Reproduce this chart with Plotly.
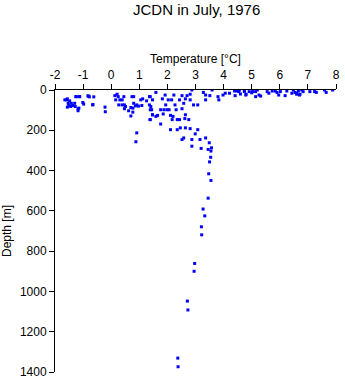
import plotly.graph_objects as go

title_text = "JCDN in July, 1976"
x_title = "Temperature [°C]"
y_title = "Depth [m]"

temperature = [
    # very cold surface cluster
    -1.59, -1.65, -1.56, -1.48, -1.53, -1.42, -1.30, -1.51, -1.44, -1.36, -1.56, -1.28,
    -1.18, -1.15, -1.24, -1.13, -1.01, -0.83, -0.78, -0.62, -0.66, -1.18, -1.26, -1.12,
    -0.98, -0.80, -0.65, -0.22, -0.21,
    # 0 - 1.5 C
    0.13, 0.21, 0.25, 0.16, 0.31, 0.39, 0.45, 0.74, 0.80, 0.27, 0.39, 0.47, 0.51, 0.47,
    0.62, 0.70, 0.77, 0.80, 0.86, 0.91, 0.97, 1.09, 0.77, 0.70, 1.05, 1.12, 1.26, 1.36,
    1.41, 1.44, 1.38, 1.47, 0.91, 0.88,
    # 1.4 - 4.8 C
    1.59, 1.47, 1.39, 1.82, 1.92, 2.03, 2.15, 2.23, 2.27, 1.94, 2.43, 2.52, 2.58, 2.64,
    2.70, 2.81, 2.87, 2.81, 2.93, 3.08, 3.28, 3.36, 3.36, 3.51, 3.59, 3.80, 3.83, 3.98,
    4.06, 4.21, 4.39, 4.48, 4.41, 4.56, 4.74, 4.80, 1.39, 1.47, 1.59, 1.65, 1.76, 1.85,
    1.88, 1.99, 2.06, 2.11, 2.17, 2.20, 2.35, 2.43, 2.52, 2.64, 2.62, 2.76, 2.31, 1.76,
    2.11, 2.35, 2.46, 2.64, 2.81, 3.08, 2.99, 3.36, 3.16, 2.87, 2.58, 2.52, 2.87, 3.49,
    3.20, 3.45, 3.57, 3.55, 1.39, 1.36,
    # warm surface layer
    4.54, 4.74, 4.79, 4.91, 5.03, 5.14, 5.20, 5.26, 5.14, 5.32, 5.55, 5.61, 5.73, 5.84,
    5.90, 5.96, 6.02, 6.19, 6.25, 6.43, 6.48, 6.54, 6.60, 6.66, 6.72, 6.78, 6.83, 7.07,
    7.24, 7.30, 7.59, 7.65, 7.88, 6.70, 6.60, 5.00, 4.60,
    # deep profile
    3.54, 3.50, 3.47, 3.55, 3.45, 3.27, 3.33, 3.21, 3.22, 2.97, 2.95, 2.71, 2.73, 2.37, 2.38,
]

depth = [
    49, 49, 44, 54, 66, 66, 66, 77, 82, 77, 85, 82,
    103, 90, 33, 33, 62, 29, 34, 34, 74, 93, 33, 33,
    70, 31, 72, 85, 108,
    28, 21, 33, 49, 49, 49, 33, 33, 33, 74, 74, 74, 82, 93,
    103, 87, 90, 66, 79, 74, 80, 77, 110, 129, 49, 44, 54, 33,
    82, 98, 147, 123, 213, 257,
    12, 49, 33, 44, 25, 49, 49, 25, 74, 74, 49, 28, 66, 44,
    28, 21, 0, 49, 74, 74, 12, 25, 49, 28, 0, 33, 49, 25,
    16, 16, 5, 5, 28, 0, 0, 21, 98, 123, 131, 126, 98, 119,
    98, 98, 98, 126, 147, 131, 147, 147, 93, 123, 142, 147, 98, 169,
    197, 197, 188, 188, 192, 197, 218, 238, 246, 246, 238, 246, 279, 262,
    290, 295, 287, 303, 147, 74,
    8, 8, 25, 8, 8, 8, 0, 25, 33, 30, 8, 16, 5, 5,
    12, 25, 8, 28, 5, 16, 0, 12, 21, 5, 21, 0, 8, 8,
    8, 12, 0, 12, 0, 25, 16, 14, 20,
    334, 357, 416, 449, 537, 591, 625, 679, 719, 861, 900, 1048, 1092, 1331, 1374,
]

x_ticks = [-2, -1, 0, 1, 2, 3, 4, 5, 6, 7, 8]
y_ticks = [0, 200, 400, 600, 800, 1000, 1200, 1400]

fig = go.Figure()
fig.add_trace(go.Scatter(
    x=temperature, y=depth, mode="markers",
    marker=dict(symbol="square", size=3, color="#0000ff", line=dict(width=0)),
    showlegend=False,
))

font_family = "Liberation Sans, Arial, sans-serif"
fig.update_layout(
    width=345, height=384,
    margin=dict(l=54, r=5, t=90, b=9),
    paper_bgcolor="white", plot_bgcolor="white",
    font=dict(family=font_family, size=12, color="black"),
    title=dict(text=title_text, x=0.57, xanchor="center", y=0.975, yanchor="middle",
               font=dict(size=15, color="black", family=font_family)),
    xaxis=dict(
        side="top", range=[-2, 8], tickvals=x_ticks, ticktext=[str(v) for v in x_ticks],
        showline=True, linecolor="black", linewidth=1,
        ticks="outside", ticklen=5, tickcolor="black", tickwidth=1,
        showgrid=False, zeroline=False,
        title=dict(text=x_title, standoff=2, font=dict(size=12)),
        tickfont=dict(size=12),
    ),
    yaxis=dict(
        range=[1400, 0], tickvals=y_ticks,
        showline=True, linecolor="black", linewidth=1,
        ticks="outside", ticklen=5, tickcolor="black", tickwidth=1,
        showgrid=False, zeroline=False,
        title=dict(text=y_title, standoff=6, font=dict(size=12)),
        tickfont=dict(size=12),
    ),
)

fig.write_html("out.html")
